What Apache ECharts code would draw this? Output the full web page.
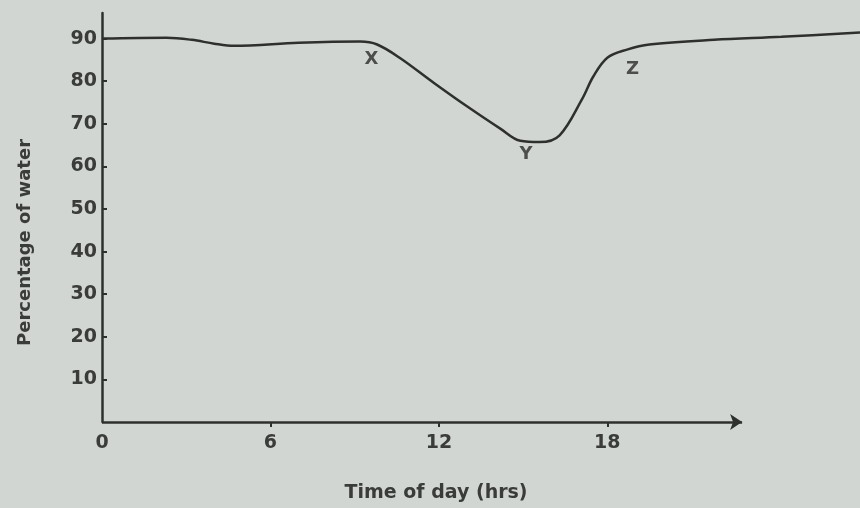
<!DOCTYPE html>
<html>
<head>
<meta charset="utf-8">
<script src="https://cdn.jsdelivr.net/npm/echarts@6/dist/echarts.min.js"></script>
<style>
  html, body { margin: 0; padding: 0; background: #d2d6d2; }
  #chart { width: 860px; height: 508px; }
</style>
</head>
<body>
<div id="chart"></div>
<script>
// time of day (hrs) and percentage of water
const hours = [0, 2.3, 3.2, 4.0, 4.7, 7.0, 9.2, 9.8, 10.6, 11.8, 13.0, 14.2, 14.9, 15.6, 16.3, 17.1, 17.5, 18.0, 18.7, 19.5, 21.8, 24.2, 27.0];
const water = [90.0, 90.2, 89.7, 88.8, 88.3, 89.0, 89.3, 88.6, 85.5, 79.7, 74.1, 68.8, 66.0, 65.7, 67.3, 75.8, 81.1, 85.5, 87.4, 88.6, 89.7, 90.4, 91.4];

const xTicks = [0, 6, 12, 18];
const yTicks = [10, 20, 30, 40, 50, 60, 70, 80, 90];
const axisEnd = 22.8; // where the drawn time axis stops (arrow)

// point letters placed beside the curve
const markNames = ["X", "Y", "Z"];
const markHours = [9.6, 15.1, 18.9];
const markVals = [85.1, 62.9, 82.7];

const ink = "#2e302e";
const labelFont = { color: "#3a3c3a", fontSize: 19, fontWeight: "bold", fontFamily: "DejaVu Sans, sans-serif" };

const myChart = echarts.init(document.getElementById("chart"));

myChart.setOption({
  backgroundColor: "#d2d6d2",
  animation: false,
  grid: { left: 102, right: 0, top: 13, bottom: 83 },
  xAxis: {
    type: "value",
    min: 0,
    max: 27,
    name: "Time of day (hrs)",
    nameLocation: "middle",
    nameGap: 62,
    nameTextStyle: Object.assign({}, labelFont, { fontSize: 19, padding: [0, 90, 0, 0] }),
    axisLine: { show: false },
    splitLine: { show: false },
    axisTick: { show: true, customValues: [6, 12, 18], length: 5, inside: false, lineStyle: { color: ink, width: 2 } },
    axisLabel: Object.assign({ customValues: xTicks, margin: 12 }, labelFont)
  },
  yAxis: {
    type: "value",
    min: 0,
    max: 96,
    name: "Percentage of water",
    nameLocation: "middle",
    nameRotate: 90,
    nameGap: 68,
    nameTextStyle: Object.assign({}, labelFont, { fontSize: 18, padding: [0, 50, 0, 0] }),
    axisLine: { show: true, lineStyle: { color: ink, width: 2.5 } },
    splitLine: { show: false },
    axisTick: { show: true, customValues: yTicks, length: 5, inside: true, lineStyle: { color: ink, width: 2 } },
    axisLabel: Object.assign({ customValues: yTicks, margin: 5 }, labelFont)
  },
  series: [
    {
      name: "water",
      type: "line",
      smooth: 0.35,
      symbol: "none",
      lineStyle: { color: ink, width: 2.5 },
      data: hours.map((h, i) => [h, water[i]])
    },
    {
      // time axis drawn as a line ending in an arrow
      name: "timeAxis",
      type: "line",
      symbol: "none",
      lineStyle: { opacity: 0 },
      data: [],
      markLine: {
        silent: true,
        symbol: ["none", "arrow"],
        symbolSize: 12,
        label: { show: false },
        lineStyle: { color: ink, width: 2.5, type: "solid" },
        data: [[{ coord: [0, 0] }, { coord: [axisEnd, 0] }]]
      }
    },
    {
      name: "points",
      type: "scatter",
      symbolSize: 0,
      data: markNames.map((n, i) => ({ name: n, value: [markHours[i], markVals[i]] })),
      label: Object.assign({ show: true, position: "inside", formatter: "{b}" }, labelFont, { fontSize: 18, color: "#2a2c2a" })
    }
  ]
});
</script>
</body>
</html>
